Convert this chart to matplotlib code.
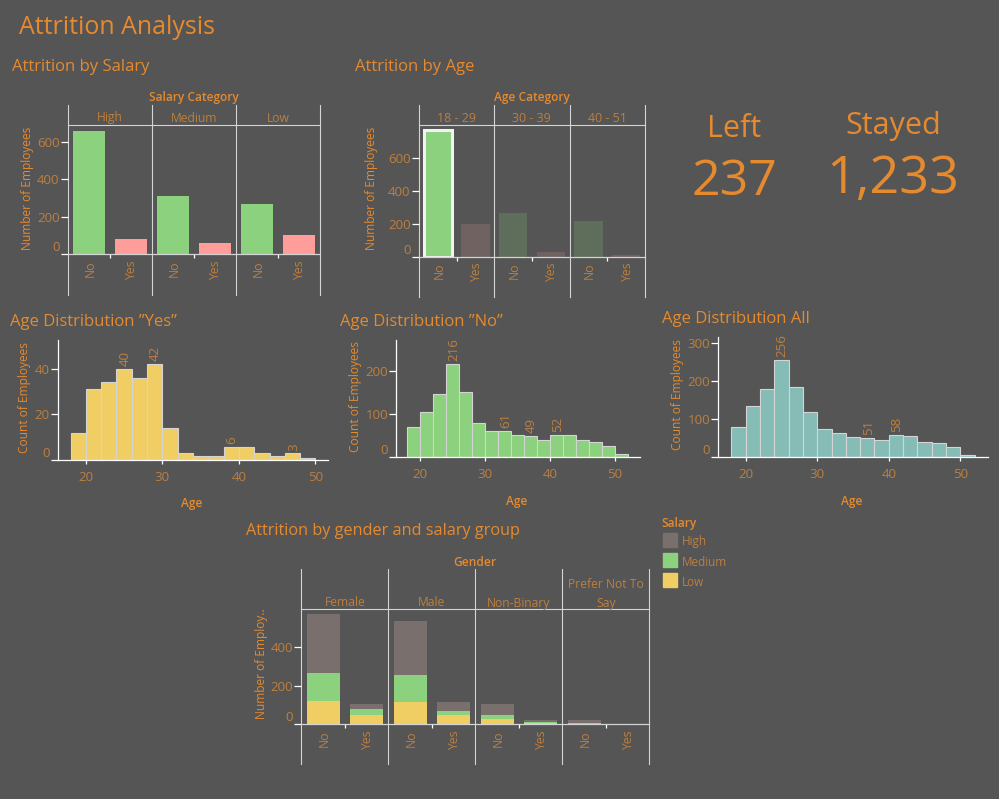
import matplotlib
matplotlib.use('Agg')
import matplotlib.pyplot as plt

W, H = 999, 799
BG = '#555555'
ORANGE = '#e58a2e'
TICK_TXT = '#bd7f3e'
LINE = '#d4d4d4'
GREEN = '#8cd17d'
PINK = '#ff9d9a'
YELLOW = '#f1ce63'
TEAL = '#86bcb6'
GREY = '#79706e'
DIM_GREEN = '#5f6e5a'

plt.rcParams['font.family'] = ['Open Sans', 'DejaVu Sans']

# attrition by salary
salary_cats = ['High', 'Medium', 'Low']
salary_no = [660, 312, 268]
salary_yes = [80, 60, 102]

# attrition by age
age_cats = ['18 - 29', '30 - 39', '40 - 51']
age_no = [770, 264, 215]
age_yes = [196, 26, 12]

# histograms, 2 year bins starting at 18
bin_edges = [18, 20, 22, 24, 26, 28, 30, 32, 34, 36, 38, 40, 42, 44, 46, 48, 50, 52]
hist_yes = [12, 31, 34, 40, 36, 42, 14, 3, 2, 2, 6, 6, 3, 2, 3, 1]
hist_no = [69, 104, 145, 216, 150, 78, 61, 61, 51, 49, 39, 52, 52, 39, 35, 25, 7]
hist_all = [81, 135, 179, 256, 186, 120, 75, 64, 53, 51, 45, 58, 55, 41, 38, 26, 7]
labels_yes = [24, 28, 38, 46]
labels_no = [24, 32, 36, 40]
labels_all = [24, 36, 40]

# gender / salary
genders = ['Female', 'Male', 'Non-Binary', 'Prefer Not To\nSay']
low_no = [121, 116, 28, 2]
low_yes = [48, 48, 7, 0]
med_no = [146, 140, 20, 5]
med_yes = [32, 21, 5, 0]
high_no = [306, 281, 58, 15]
high_yes = [26, 47, 10, 0]

totals = ['237', '1,233']

fig = plt.figure(figsize=(W / 100, H / 100), dpi=100, facecolor=BG)


def px_axes(left, top, right, bottom):
    ax = fig.add_axes([left / W, 1 - bottom / H, (right - left) / W, (bottom - top) / H])
    ax.set_facecolor('none')
    return ax


def txt(x, y, s, size, color=ORANGE, ha='left', **kw):
    # open sans sits a bit high/left of the asked position
    if 'rotation' in kw:
        x += 3
    else:
        y += 2
    fig.text(x / W, 1 - y / H, s, fontsize=size, color=color, ha=ha, va='center', **kw)


def y_axis(ax, ticks):
    ax.set_yticks(ticks)
    ax.tick_params(axis='y', length=5, width=0.9, color='white', labelcolor=TICK_TXT,
                   labelsize=9.6, pad=1)
    ax.get_yticklabels()[0].set_va('bottom')


def facet_frame(ax, names, top, header, bottom, base):
    # facet grid: one x slot per facet, ticks in the middle of each one
    n = len(names)
    ax.set_xlim(0, n)
    ax.set_xticks([i + 0.5 for i in range(n)])
    ax.set_xticklabels([])
    ax.tick_params(axis='x', length=3, width=0.9, color='white')
    for s in ['top', 'right', 'left']:
        ax.spines[s].set_visible(False)
    ax.spines['bottom'].set_color(LINE)
    ax.spines['bottom'].set_linewidth(0.9)
    h = base - header
    y0 = (base - bottom) / h
    y1 = (base - top) / h
    for i in range(n + 1):
        ax.plot([i, i], [y0, y1], transform=ax.get_xaxis_transform(), color=LINE, lw=0.8,
                clip_on=False, zorder=1)
    ax.plot([0, n], [1, 1], transform=ax.get_xaxis_transform(), color=LINE, lw=0.8, clip_on=False)
    for i in range(n):
        for x, lab in [(i + 0.25, 'No'), (i + 0.75, 'Yes')]:
            ax.annotate(lab, (x, 0), xycoords=ax.get_xaxis_transform(), xytext=(0.7, -4.5),
                        textcoords='offset points', rotation=90, ha='center', va='top',
                        color=TICK_TXT, fontsize=8.8)


def hist(ax, values, color, ticks, xlim, ymax, marked):
    starts = bin_edges[:len(values)]
    widths = [b - a for a, b in zip(bin_edges[:-1], bin_edges[1:])][:len(values)]
    ax.bar(starts, values, widths, align='edge', color=color, edgecolor=LINE, linewidth=0.8)
    ax.set_xlim(*xlim)
    ax.set_ylim(0, ymax)
    ax.set_xticks([20, 30, 40, 50])
    ax.tick_params(axis='x', length=3, width=0.9, color='white', labelcolor=TICK_TXT,
                   labelsize=9.6, pad=5)
    y_axis(ax, ticks)
    ax.spines['top'].set_visible(False)
    ax.spines['right'].set_visible(False)
    for s in ['left', 'bottom']:
        ax.spines[s].set_color('white')
        ax.spines[s].set_linewidth(0.9)
    for start in marked:
        v = values[bin_edges.index(start)]
        ax.annotate(str(v), (start + 1, v), xytext=(0.7, 2), textcoords='offset points', rotation=90,
                    ha='center', va='bottom', color=TICK_TXT, fontsize=9.6)


# --- titles ---
txt(19, 25, 'Attrition Analysis', 18, weight='medium')
txt(12, 65, 'Attrition by Salary', 12)
txt(355, 65, 'Attrition by Age', 12)
txt(10, 320, 'Age Distribution \u201dYes\u201d', 12)
txt(340, 320, 'Age Distribution \u201dNo\u201d', 12)
txt(662, 317, 'Age Distribution All', 12)
txt(246, 529, 'Attrition by gender and salary group', 11.7)

# --- salary ---
ax = px_axes(68, 125, 320, 254)
facet_frame(ax, salary_cats, 105, 125, 295, 254)
bw = 32 / 84
ax.bar([i + 0.25 for i in range(3)], salary_no, bw, color=GREEN, zorder=2)
ax.bar([i + 0.75 for i in range(3)], salary_yes, bw, color=PINK, zorder=2)
ax.set_ylim(0, 691)
y_axis(ax, [0, 200, 400, 600])
txt(194, 96, 'Salary Category', 8.6, ha='center', weight='semibold')
for i, c in enumerate(salary_cats):
    txt(110 + 84 * i, 116, c, 8.7, TICK_TXT, ha='center')
txt(25, 188, 'Number of Employees', 8.6, ha='center', rotation=90)

# --- age ---
ax = px_axes(419, 125, 645, 256.5)
facet_frame(ax, age_cats, 105, 125, 297, 256.5)
bw = 28 / 75.3
bars = ax.bar([i + 0.25 for i in range(3)], age_no, bw, color=DIM_GREEN, zorder=2)
bars[0].set_facecolor(GREEN)
bars[0].set_edgecolor('#f2f2f2')
bars[0].set_linewidth(2.2)
ax.bar([i + 0.75 for i in range(3)], age_yes, bw, color='#6f6261', zorder=2)
ax.set_ylim(0, 803)
y_axis(ax, [0, 200, 400, 600])
txt(532, 96, 'Age Category', 8.6, ha='center', weight='semibold')
for i, c in enumerate(age_cats):
    txt(456.5 + 75.3 * i, 116, c, 8.9, TICK_TXT, ha='center')
txt(368, 188, 'Number of Employees', 8.6, ha='center', rotation=90)

# --- KPI ---
txt(734, 127, 'Left', 22, ha='center')
txt(893, 124, 'Stayed', 22, ha='center')
txt(734, 180, totals[0], 36, ha='center')
txt(893, 178, totals[1], 37.5, ha='center')

# --- histograms ---
ax = px_axes(58.3, 340, 327.7, 460.3)
hist(ax, hist_yes, YELLOW, [0, 20, 40], (16.4, 51.6), 52.5, labels_yes)
txt(22, 398, 'Count of Employees', 8.6, ha='center', rotation=90)
txt(192, 502, 'Age', 8.6, ha='center', weight='semibold')

ax = px_axes(396.3, 340, 639.7, 457.3)
hist(ax, hist_no, GREEN, [0, 100, 200], (16.3, 53.8), 270.5, labels_no)
txt(353, 397, 'Count of Employees', 8.6, ha='center', rotation=90)
txt(517, 499, 'Age', 8.6, ha='center', weight='semibold')

ax = px_axes(718.3, 337.3, 987.7, 457.3)
hist(ax, hist_all, TEAL, [0, 100, 200, 300], (16.2, 53.8), 316, labels_all)
txt(675, 395, 'Count of Employees', 8.6, ha='center', rotation=90)
txt(852, 499, 'Age', 8.6, ha='center', weight='semibold')

# --- gender / salary stack ---
ax = px_axes(301.3, 609.3, 649.3, 724.3)
facet_frame(ax, genders, 569, 609.3, 764.3, 724.3)
bw = 33 / 87
for offset, lo, me, hi in [(0.25, low_no, med_no, high_no), (0.75, low_yes, med_yes, high_yes)]:
    xs = [i + offset for i in range(4)]
    ax.bar(xs, lo, bw, color=YELLOW, zorder=2)
    ax.bar(xs, me, bw, bottom=lo, color=GREEN, zorder=2)
    ax.bar(xs, hi, bw, bottom=[a + b for a, b in zip(lo, me)], color=GREY, zorder=2)
ax.set_ylim(0, 597)
y_axis(ax, [0, 200, 400])
txt(475, 560, 'Gender', 8.6, ha='center', weight='semibold')
for i, g in enumerate(genders):
    if '\n' in g:
        a, b = g.split('\n')
        txt(344.8 + 87 * i, 583, a, 8.7, TICK_TXT, ha='center')
        txt(344.8 + 87 * i, 601, b, 8.7, TICK_TXT, ha='center')
    else:
        txt(344.8 + 87 * i, 601, g, 8.7, TICK_TXT, ha='center')
txt(258, 664, 'Number of Employ..', 8.6, ha='center', rotation=90)

# --- legend ---
txt(661, 522, 'Salary', 8.6, weight='semibold')
for y, name, col in [(540, 'High', GREY), (560, 'Medium', GREEN), (580, 'Low', YELLOW)]:
    fig.patches.append(plt.Rectangle((663 / W, 1 - (y + 7) / H), 14 / W, 14 / H, color=col,
                                     transform=fig.transFigure))
    txt(682, y, name, 8.5, TICK_TXT)

fig.savefig('out.png', dpi=100, facecolor=BG)
